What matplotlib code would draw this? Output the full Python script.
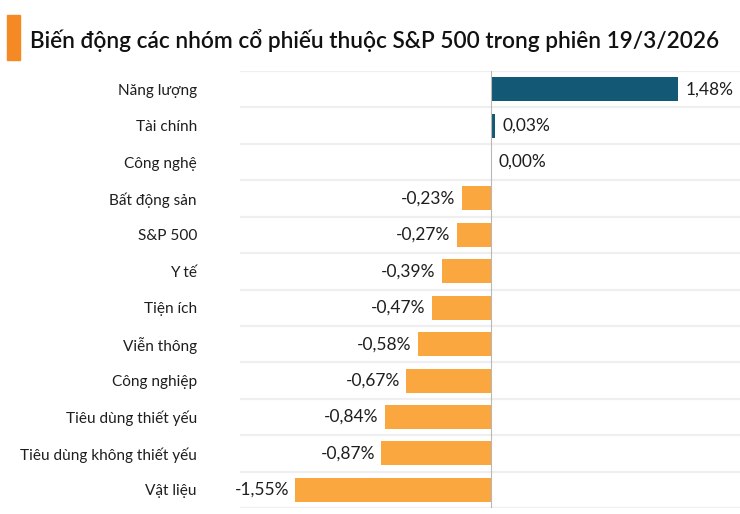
# S&P 500 sector moves on 19/3/2026 - horizontal bar chart

import matplotlib.pyplot as plt
from matplotlib.patches import Rectangle

plt.rcParams['font.family'] = ['Lato', 'DejaVu Sans']

sectors = ["Năng lượng", "Tài chính", "Công nghệ", "Bất động sản", "S&P 500", "Y tế",
           "Tiện ích", "Viễn thông", "Công nghiệp", "Tiêu dùng thiết yếu",
           "Tiêu dùng không thiết yếu", "Vật liệu"]
changes = [1.48, 0.03, 0.00, -0.23, -0.27, -0.39, -0.47, -0.58, -0.67, -0.84, -0.87, -1.55]
value_labels = ["1,48%", "0,03%", "0,00%", "-0,23%", "-0,27%", "-0,39%", "-0,47%",
                "-0,58%", "-0,67%", "-0,84%", "-0,87%", "-1,55%"]

pos_color = "#135875"
neg_color = "#f9a73e"
text_color = "#1e1e1e"

fig = plt.figure(figsize=(7.4, 5.14), dpi=100)
ax = fig.add_axes([240/740, 6/514, 500/740, 437/514])

colors = [pos_color if v >= 0 else neg_color for v in changes]
ypos = list(range(len(sectors)))
ax.barh(ypos, changes, height=0.66, color=colors, zorder=2)

ax.set_xlim(-1.99, 1.975)
ax.set_ylim(len(sectors) - 0.5, -0.5)

# light separators between rows
for i in range(len(sectors) + 1):
    ax.axhline(i - 0.5, color="#efefef", lw=1.6, zorder=1)
ax.axvline(0, color="#b8b8b8", lw=0.8, zorder=3)

for y, v, lab in zip(ypos, changes, value_labels):
    if v >= 0:
        ax.text(v + 0.06, y, lab, ha="left", va="center", fontsize=12.5, color=text_color)
    else:
        ax.text(v - 0.05, y, lab, ha="right", va="center", fontsize=12.5, color=text_color)

ax.set_yticks(ypos)
ax.set_yticklabels(sectors, fontsize=11.1, color=text_color)
ax.tick_params(axis="y", length=0, pad=31)
ax.set_xticks([])
for s in ax.spines.values():
    s.set_visible(False)

# title with orange marker
fig.patches.append(Rectangle((7/740, 1 - 60/514), 13/740, 45/514,
                             transform=fig.transFigure, color="#f58a24"))
fig.text(30/740, 1 - 40/514, "Biến động các nhóm cổ phiếu thuộc S&P 500 trong phiên 19/3/2026",
         fontsize=16.3, fontweight="semibold", color="#111111", va="center", ha="left")

fig.savefig("out.png", dpi=100)
